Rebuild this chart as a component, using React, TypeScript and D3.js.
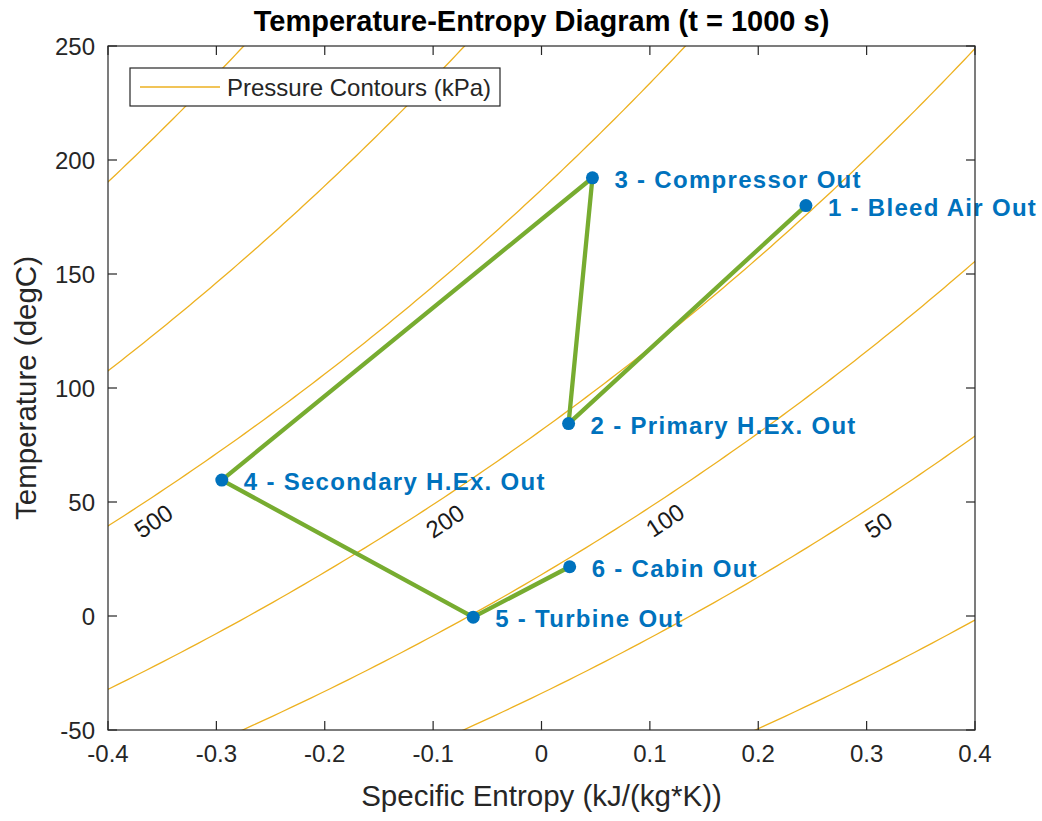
import React from 'react';
import * as d3 from 'd3';

// isobar levels (kPa) and which ones carry a label
const pressureLevels = [20, 50, 100, 200, 500, 1000, 2000];
const labeledLevels = [500, 200, 100, 50];
const labelEntropy = [-0.358, -0.089, 0.114, 0.311];
const labelTemp = [41.6, 41.6, 42.0, 39.8];

// cycle state points, in the order the line connects them
const stateNames = [
  '1 - Bleed Air Out',
  '2 - Primary H.Ex. Out',
  '3 - Compressor Out',
  '4 - Secondary H.Ex. Out',
  '5 - Turbine Out',
  '6 - Cabin Out',
];
const stateEntropy = [0.244, 0.025, 0.047, -0.295, -0.063, 0.026];
const stateTemp = [180.0, 84.4, 192.2, 59.6, -0.5, 21.6];

const xTicks = [-0.4, -0.3, -0.2, -0.1, 0, 0.1, 0.2, 0.3, 0.4];
const yTicks = [-50, 0, 50, 100, 150, 200, 250];

// ideal gas air, s = cp ln(T/Tref) - R ln(P/Pref)
const CP = 1.035;
const R_GAS = 0.294;
const T_REF = 291.3;
const P_REF = 100;

const W = 1042;
const H = 821;
const left = 108, right = 975, top = 46, bottom = 730;
const FONT = '"Liberation Sans", Arial, Helvetica, sans-serif';
const AX = '#262626';

const entropyAt = (tC: number, p: number) =>
  CP * Math.log((tC + 273.15) / T_REF) - R_GAS * Math.log(p / P_REF);
const tempAt = (s: number, p: number) =>
  T_REF * Math.exp((s + R_GAS * Math.log(p / P_REF)) / CP) - 273.15;

export default function App() {
  const x = d3.scaleLinear().domain([-0.4, 0.4]).range([left, right]);
  const y = d3.scaleLinear().domain([-50, 250]).range([bottom, top]);

  const sampleT = d3.range(-80, 300, 2);
  const line = d3.line<number[]>().x(d => x(d[0])).y(d => y(d[1]));
  const contours = pressureLevels.map(p => ({
    p,
    d: line(sampleT.map(t => [entropyAt(t, p), t])) || '',
  }));

  const pxPerDeg = Math.abs(y(1) - y(0));
  const pxPerS = Math.abs(x(1) - x(0));

  const cycle = stateEntropy.map((s, i) => [s, stateTemp[i]]);

  return (
    <svg
      width={W}
      height={H}
      style={{ position: 'absolute', left: 0, top: 0, background: '#fff' }}
      fontFamily={FONT}
    >
      <defs>
        <clipPath id="plot">
          <rect x={left} y={top} width={right - left} height={bottom - top} />
        </clipPath>
      </defs>
      <rect x={0} y={0} width={W} height={H} fill="#fff" />

      <g clipPath="url(#plot)">
        {contours.map(c => (
          <path key={c.p} d={c.d} fill="none" stroke="#EDB120" strokeWidth={1.3} />
        ))}
        <path
          d={line(cycle) || ''}
          fill="none"
          stroke="#77AC30"
          strokeWidth={4.3}
          strokeLinejoin="round"
        />
        {cycle.map((d, i) => (
          <circle key={i} cx={x(d[0])} cy={y(d[1])} r={6.5} fill="#0072BD" />
        ))}
      </g>

      {/* contour labels */}
      {labeledLevels.map((p, i) => {
        const s = labelEntropy[i];
        const tK = tempAt(s, p) + 273.15;
        const slope = (tK / CP) * pxPerDeg / pxPerS;
        const ang = -Math.atan(slope) * 180 / Math.PI;
        const cx = x(s), cy = y(labelTemp[i]);
        return (
          <text
            key={p}
            transform={`translate(${cx},${cy}) rotate(${ang})`}
            textAnchor="middle"
            dominantBaseline="central"
            fontSize={24}
            fill="#1a1a1a"
          >
            {p}
          </text>
        );
      })}

      {/* state labels */}
      {cycle.map((d, i) => (
        <text
          key={i}
          x={x(d[0]) + 22}
          y={y(d[1]) + 10}
          fontSize={24}
          fontWeight="bold"
          letterSpacing={1.3}
          fill="#0072BD"
        >
          {stateNames[i]}
        </text>
      ))}

      {/* axes box */}
      <rect
        x={left}
        y={top}
        width={right - left}
        height={bottom - top}
        fill="none"
        stroke={AX}
        strokeWidth={1.2}
      />
      {xTicks.map(t => (
        <g key={'x' + t}>
          <line x1={x(t)} x2={x(t)} y1={bottom} y2={bottom - 9} stroke={AX} strokeWidth={1.2} />
          <line x1={x(t)} x2={x(t)} y1={top} y2={top + 9} stroke={AX} strokeWidth={1.2} />
          <text x={x(t)} y={762} textAnchor="middle" fontSize={24} fill={AX}>
            {t === 0 ? '0' : d3.format('.1f')(t).replace('−', '-')}
          </text>
        </g>
      ))}
      {yTicks.map(t => (
        <g key={'y' + t}>
          <line x1={left} x2={left + 9} y1={y(t)} y2={y(t)} stroke={AX} strokeWidth={1.2} />
          <line x1={right} x2={right - 9} y1={y(t)} y2={y(t)} stroke={AX} strokeWidth={1.2} />
          <text x={95} y={y(t)} textAnchor="end" dominantBaseline="central" fontSize={24} fill={AX}>
            {String(t)}
          </text>
        </g>
      ))}

      <text x={(left + right) / 2} y={806} textAnchor="middle" fontSize={29.5} fill={AX}>
        Specific Entropy (kJ/(kg*K))
      </text>
      <text
        transform={`translate(36,${(top + bottom) / 2}) rotate(-90)`}
        textAnchor="middle"
        fontSize={29.5}
        fill={AX}
      >
        Temperature (degC)
      </text>
      <text
        x={(left + right) / 2}
        y={31}
        textAnchor="middle"
        fontSize={29}
        fontWeight="bold"
        fill="#000"
      >
        Temperature-Entropy Diagram (t = 1000 s)
      </text>

      {/* legend */}
      <rect x={130} y={68} width={370} height={38} fill="#fff" stroke={AX} strokeWidth={1.2} />
      <line x1={140} x2={220} y1={87} y2={87} stroke="#EDB120" strokeWidth={1.5} />
      <text x={227} y={96} fontSize={24} fill={AX}>
        Pressure Contours (kPa)
      </text>
    </svg>
  );
}
